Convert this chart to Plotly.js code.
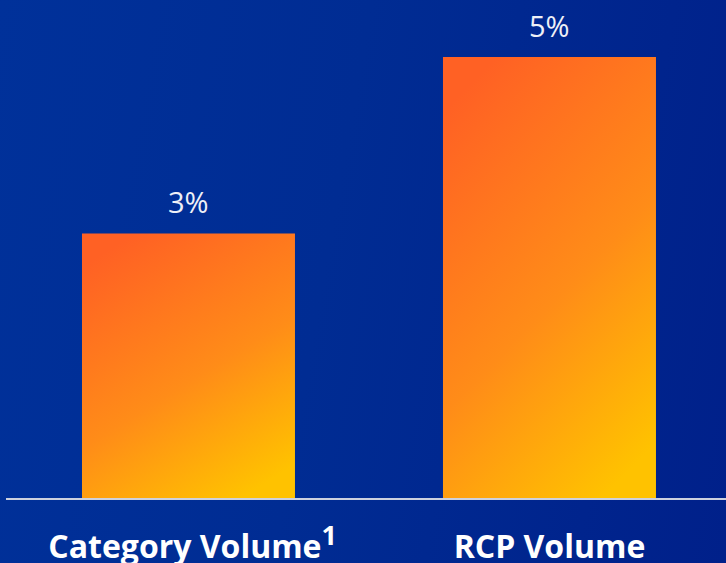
<!DOCTYPE html>
<html>
<head>
<meta charset="utf-8">
<script src="https://cdn.plot.ly/plotly-3.0.1.min.js"></script>
<style>
  html, body { margin: 0; padding: 0; }
  body {
    width: 726px; height: 563px; overflow: hidden;
    background: linear-gradient(100deg, #00319a 0%, #002c93 45%, #00208a 100%);
  }
  #chart { width: 726px; height: 563px; }
</style>
</head>
<body>
<div id="chart"></div>
<script>
// Volume growth by measure
const categories = ['Category Volume', 'RCP Volume'];
const tickLabels = ['&nbsp;Category Volume<sup><span style="font-size:27px">1</span></sup>', 'RCP Volume'];
const values = [3, 5];

const font = 'Open Sans, Noto Sans, sans-serif';

const trace = {
  type: 'bar',
  x: categories,
  y: values,
  marker: { color: '#ff8a14', line: { width: 0 } },
  hoverinfo: 'none'
};

const annotations = categories.map((c, i) => ({
  x: c,
  y: values[i],
  xref: 'x',
  yref: 'y',
  text: values[i] + '%',
  showarrow: false,
  yanchor: 'bottom',
  yshift: 10,
  font: { family: font, size: 29, color: '#eef0f7' }
}));

const layout = {
  width: 726,
  height: 563,
  margin: { l: 6, r: 0, t: 0, b: 65, pad: 0 },
  paper_bgcolor: 'rgba(0,0,0,0)',
  plot_bgcolor: 'rgba(0,0,0,0)',
  bargap: 0.41,
  showlegend: false,
  xaxis: {
    type: 'category',
    range: [-0.5055, 1.489],
    tickvals: categories,
    ticktext: tickLabels,
    showline: true,
    linecolor: '#cdd1de',
    linewidth: 2,
    showgrid: false,
    zeroline: false,
    ticks: '',
    ticklabelstandoff: 20,
    tickfont: { family: font, size: 32, color: '#ffffff', weight: 'bold' }
  },
  yaxis: {
    range: [0, 5.646],
    visible: false,
    fixedrange: true
  },
  annotations: annotations
};

// Orange-to-amber diagonal fill for the bars
function applyBarGradient(gd) {
  const svg = gd.querySelector('.main-svg');
  if (!svg) return;
  let defs = svg.querySelector('defs');
  if (!defs) {
    defs = document.createElementNS('http://www.w3.org/2000/svg', 'defs');
    svg.insertBefore(defs, svg.firstChild);
  }
  if (!defs.querySelector('#barFill')) {
    const ns = 'http://www.w3.org/2000/svg';
    const lg = document.createElementNS(ns, 'linearGradient');
    lg.setAttribute('id', 'barFill');
    lg.setAttribute('x1', '0.25');
    lg.setAttribute('y1', '0');
    lg.setAttribute('x2', '0.75');
    lg.setAttribute('y2', '1');
    [['0', '#ff6124'], ['0.55', '#ff8c18'], ['1', '#ffc200']].forEach(([o, c]) => {
      const s = document.createElementNS(ns, 'stop');
      s.setAttribute('offset', o);
      s.setAttribute('stop-color', c);
      lg.appendChild(s);
    });
    defs.appendChild(lg);
  }
  gd.querySelectorAll('.barlayer .point path').forEach(p => {
    p.style.fill = 'url(#barFill)';
  });
}

const gd = document.getElementById('chart');
Plotly.newPlot(gd, [trace], layout, { displayModeBar: false, staticPlot: true }).then(() => {
  applyBarGradient(gd);
  gd.on('plotly_afterplot', () => applyBarGradient(gd));
});
</script>
</body>
</html>
